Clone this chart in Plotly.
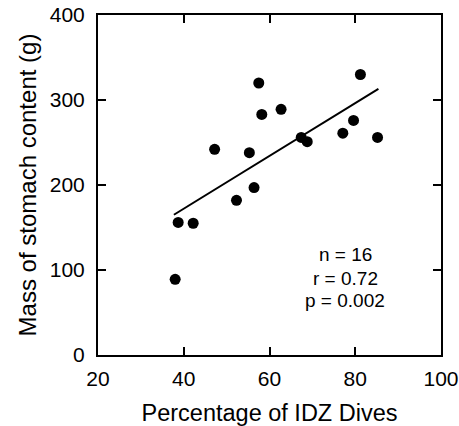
import plotly.graph_objects as go

# Data
idz_pct = [38.0, 38.7, 42.2, 47.2, 52.3, 55.3, 56.4, 57.5, 58.2, 62.7, 67.4, 68.8, 77.1, 79.6, 81.2, 85.2]
stomach_mass = [89, 156, 155, 242, 182, 238, 197, 320, 283, 289, 256, 251, 261, 276, 330, 256]
fit_x = [37.7, 85.4]
fit_y = [165, 313]
stats_lines = ["n = 16", "r = 0.72", "p = 0.002"]
x_ticks = [20, 40, 60, 80, 100]
y_ticks = [0, 100, 200, 300, 400]

FONT = "Liberation Sans, Arial, sans-serif"

fig = go.Figure()
fig.add_trace(go.Scatter(x=idz_pct, y=stomach_mass, mode="markers",
                         marker=dict(color="black", size=11, line=dict(width=0)),
                         showlegend=False))
fig.add_trace(go.Scatter(x=fit_x, y=fit_y, mode="lines",
                         line=dict(color="black", width=2), showlegend=False))

# stats text (three lines)
for s, yv in zip(stats_lines, [118.5, 90.5, 64.5]):
    fig.add_annotation(x=77.7, y=yv, xref="x", yref="y", text=s,
                       showarrow=False, font=dict(family=FONT, size=19, color="black"),
                       xanchor="center", yanchor="middle")

axis_common = dict(showline=True, linewidth=2, linecolor="black", mirror="ticks",
                   ticks="inside", ticklen=8, tickwidth=2, tickcolor="black",
                   showgrid=False, zeroline=False, automargin=False,
                   tickfont=dict(family=FONT, size=21, color="black"))

fig.update_xaxes(range=[20, 100], tickvals=x_ticks, ticktext=[str(v) for v in x_ticks],
                 ticklabelstandoff=4,
                 title=dict(text="Percentage of IDZ Dives", font=dict(family=FONT, size=23.5, color="black"),
                            standoff=24),
                 **axis_common)
fig.update_yaxes(range=[0, 400], tickvals=y_ticks, ticktext=[str(v) for v in y_ticks],
                 ticklabelstandoff=7,
                 title=dict(text="Mass of stomach content (g)", font=dict(family=FONT, size=24, color="black"),
                            standoff=6),
                 **axis_common)

fig.update_layout(width=459, height=426, margin=dict(l=98, r=18, t=15, b=71),
                  paper_bgcolor="white", plot_bgcolor="white",
                  font=dict(family=FONT, color="black"))

fig.write_html("out.html", config={"displayModeBar": False},
               post_script="document.body.style.margin='0';document.body.style.overflow='hidden';")
